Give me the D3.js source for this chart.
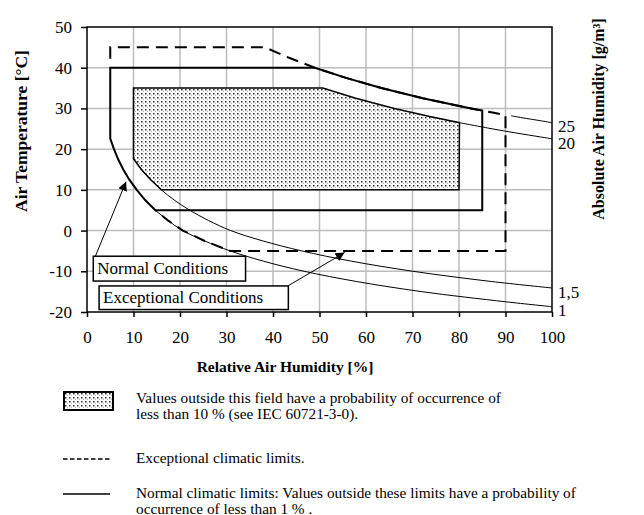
<!DOCTYPE html>
<html><head><meta charset="utf-8">
<script src="https://cdn.jsdelivr.net/npm/d3@7"></script>
<style>
body{margin:0;background:#fff}
svg{display:block}
text{font-family:"Liberation Serif","Times New Roman",serif;fill:#000}
</style>
</head><body>
<svg id="c" width="644" height="515"></svg>
<script>
// ---------- data (RH %, T °C) ----------
const rhTicks = [0,10,20,30,40,50,60,70,80,90,100];
const tempTicks = [-20,-10,0,10,20,30,40,50];

// absolute humidity isolines (thin lines)
const ah25 = [[91.2,28.2],[92.1,28],[97.4,27],[100,26.5]];
const ah20 = [[80.1,26.5],[87.1,25],[92.1,24],[97.5,23],[100,22.55]];
const ah15 = [[10,17.65],[11.7,15],[13.7,12.5],[16.0,10],[18.75,7.5],[22.1,5],[26.1,2.5],[30.9,0],[37.7,-2.5],[46.2,-5],[56.8,-7.5],[70.1,-10],[86.9,-12.5],[100,-14.1]];
const ah1  = [[14.7,5],[17.4,2.5],[20.6,0],[25.2,-2.5],[30.8,-5],[37.9,-7.5],[46.7,-10],[57.9,-12.5],[72.0,-15],[90.1,-17.5],[100,-18.7]];
const ahLabels = ["25","20","1,5","1"];

// normal climatic limits (solid, closed)
const normalLimit = [[5,40],[49.0,40],[55.7,37.5],[63.3,35],[72.2,32.5],[82.6,30],[85,29.5],[85,5],[14.7,5],[12.5,7.5],[10.7,10],[9.1,12.5],[7.8,15],[6.7,17.5],[5.8,20],[5,22.6]];
// exceptional climatic limits (dashed, open where it leaves the normal limits)
const exceptionalLimit = [[5,42.2],[5,45],[38.3,45],[43.3,42.5],[49.0,40],[55.7,37.5],[63.3,35],[72.2,32.5],[82.6,30],[87.2,29],[90,28.4],[90,-5],[30.8,-5],[25.2,-2.5],[20.6,0],[17.4,2.5],[14.7,5]];
// 10 % field (stippled)
const field10 = [[10,35],[50.7,35],[57.8,32.5],[66.1,30],[73.7,28],[80.1,26.5],[80,10],[16.0,10],[13.7,12.5],[11.7,15],[10,17.65]];

// call-out boxes (data units): [rh0, t0, rh1, t1], arrow from -> to
const callouts = [
  {label:"Normal Conditions", box:[1.35,-6.3,34.1,-12.4], from:[1.8,-6.3], to:[8.4,12.0]},
  {label:"Exceptional Conditions", box:[2.6,-13.6,43.3,-19.4], from:[43.2,-13.6], to:[55.4,-5.4]}
];

const xTitle = "Relative Air Humidity [%]";
const yTitle = "Air Temperature [°C]";
const y2Title = "Absolute Air Humidity [g/m³]";
const legendItems = [
  {type:"field", lines:["Values outside this field have a probability of occurrence of","less than 10 % (see IEC 60721-3-0)."]},
  {type:"dash", lines:["Exceptional climatic limits."]},
  {type:"solid", lines:["Normal climatic limits: Values outside these limits have a probability of","occurrence of less than 1 % ."]}
];

// ---------- drawing ----------
const svg = d3.select("#c");
const L=87, R=552, T=27, B=312;
const x = d3.scaleLinear().domain([0,100]).range([L,R]);
const y = d3.scaleLinear().domain([-20,50]).range([B,T]);

const defs = svg.append("defs");
const pat = defs.append("pattern").attr("id","dots").attr("patternUnits","userSpaceOnUse")
  .attr("width",4).attr("height",4);
pat.append("rect").attr("width",4).attr("height",4).attr("fill","#fff");
pat.append("rect").attr("x",1).attr("y",1).attr("width",1.5).attr("height",1.5).attr("fill","#2a2a2a");
pat.append("rect").attr("x",3).attr("y",3).attr("width",1).attr("height",1).attr("fill","#aaa");
defs.append("marker").attr("id","arr").attr("viewBox","0 0 10 10").attr("refX",10).attr("refY",5)
  .attr("markerWidth",9).attr("markerHeight",9).attr("markerUnits","userSpaceOnUse").attr("orient","auto")
  .append("path").attr("d","M0,0L10,5L0,10z").attr("fill","#000");

// grid
const g = svg.append("g");
g.selectAll(".gx").data(rhTicks.slice(1,-1)).join("line")
  .attr("x1",d=>x(d)).attr("x2",d=>x(d)).attr("y1",T).attr("y2",B)
  .attr("stroke","#bdbdbd").attr("stroke-width",1.5);
g.selectAll(".gy").data(tempTicks.slice(1,-1)).join("line")
  .attr("y1",d=>y(d)).attr("y2",d=>y(d)).attr("x1",L).attr("x2",R)
  .attr("stroke","#bdbdbd").attr("stroke-width",1.5);

const line = d3.line().x(d=>x(d[0])).y(d=>y(d[1]));
const smooth = d3.line().x(d=>x(d[0])).y(d=>y(d[1])).curve(d3.curveCatmullRom);

// stippled field
g.append("path").attr("d",line(field10)+"Z").attr("fill","url(#dots)")
  .attr("stroke","#000").attr("stroke-width",1.5);

// thin isolines
[ah25,ah20,ah15,ah1].forEach(c=>{
  g.append("path").attr("d",smooth(c)).attr("fill","none").attr("stroke","#000").attr("stroke-width",1);
});

// exceptional dashed
g.append("path").attr("d",line(exceptionalLimit)).attr("fill","none").attr("stroke","#000")
  .attr("stroke-width",2).attr("stroke-dasharray","12,7").attr("stroke-linejoin","miter");
// normal solid
g.append("path").attr("d",line(normalLimit)+"Z").attr("fill","none").attr("stroke","#000")
  .attr("stroke-width",2).attr("stroke-linejoin","miter");

// frame
svg.append("rect").attr("x",L).attr("y",T).attr("width",R-L).attr("height",B-T)
  .attr("fill","none").attr("stroke","#000").attr("stroke-width",1.5);

// axes
const ax = svg.append("g").attr("transform",`translate(0,${B})`)
  .call(d3.axisBottom(x).tickValues(rhTicks).tickFormat(d=>String(d)).tickSize(5).tickPadding(14));
const ay = svg.append("g").attr("transform",`translate(${L},0)`)
  .call(d3.axisLeft(y).tickValues(tempTicks).tickFormat(d=>String(d)).tickSize(6).tickPadding(9));
[ax,ay].forEach(a=>{
  a.select(".domain").remove();
  a.selectAll(".tick line").attr("stroke","#000").attr("stroke-width",1.5);
  a.selectAll(".tick text").attr("font-family","Liberation Serif").attr("font-size",17).attr("fill","#000");
});

// isoline labels at curve ends
const ends = [ah25,ah20,ah15,ah1].map(c=>c[c.length-1]);
const offs = [3,4.5,4.5,3.5];
svg.selectAll(".al").data(ends).join("text")
  .attr("x",d=>x(d[0])+6).attr("y",(d,i)=>y(d[1])+offs[i]).attr("dy","0.35em")
  .attr("font-size",17).text((d,i)=>ahLabels[i]);

// titles
svg.append("text").attr("x",285).attr("y",372).attr("text-anchor","middle")
  .attr("font-weight","bold").attr("font-size",15.5).text(xTitle);
svg.append("text").attr("transform","translate(27,131) rotate(-90)").attr("text-anchor","middle")
  .attr("font-weight","bold").attr("font-size",17.5).text(yTitle);
svg.append("text").attr("transform","translate(604,119) rotate(-90)").attr("text-anchor","middle")
  .attr("font-weight","bold").attr("font-size",16).text(y2Title);

// call-outs
callouts.forEach(c=>{
  svg.append("line").attr("x1",x(c.from[0])).attr("y1",y(c.from[1])).attr("x2",x(c.to[0])).attr("y2",y(c.to[1]))
    .attr("stroke","#000").attr("stroke-width",1).attr("marker-end","url(#arr)");
});
callouts.forEach(c=>{
  const [r0,t0,r1,t1]=c.box;
  svg.append("rect").attr("x",x(r0)).attr("y",y(t0)).attr("width",x(r1)-x(r0)).attr("height",y(t1)-y(t0))
    .attr("fill","#fff").attr("stroke","#000").attr("stroke-width",1.5);
  svg.append("text").attr("x",x(r0)+4).attr("y",(y(t0)+y(t1))/2).attr("dy","0.33em")
    .attr("font-size",17).text(c.label);
});

// legend
const lg = svg.append("g");
const rowY = [392, 459, 494];
legendItems.forEach((it,i)=>{
  const yy=rowY[i];
  if(it.type==="field"){
    lg.append("rect").attr("x",64).attr("y",yy).attr("width",49).attr("height",18)
      .attr("fill","url(#dots)").attr("stroke","#000").attr("stroke-width",2);
  } else {
    lg.append("line").attr("x1",63).attr("x2",110).attr("y1",yy).attr("y2",yy).attr("stroke","#000")
      .attr("stroke-width",1.5).attr("stroke-dasharray",it.type==="dash"?"4.5,2.5":null);
  }
  const base = it.type==="field" ? yy+11 : yy+4;
  it.lines.forEach((s,j)=>{
    lg.append("text").attr("x",136).attr("y",base+j*15.5).attr("font-size",15.3).text(s);
  });
});
</script>
</body></html>
